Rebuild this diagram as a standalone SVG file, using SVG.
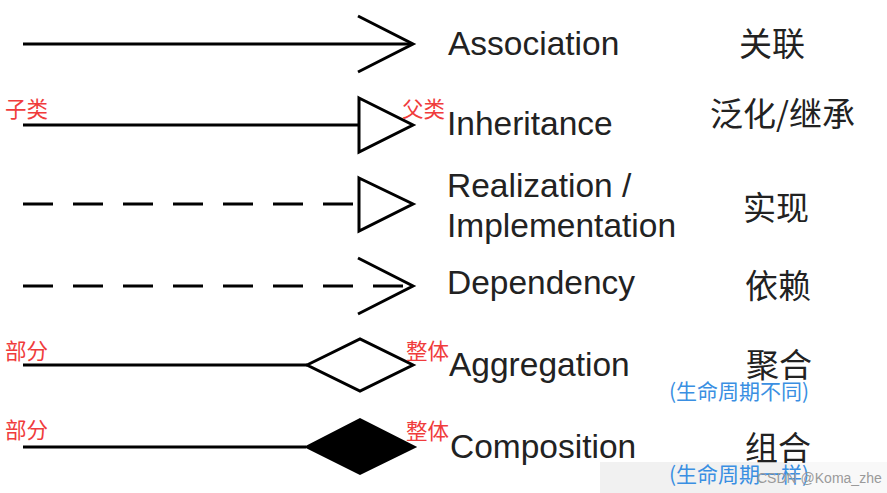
<svg xmlns="http://www.w3.org/2000/svg" width="887" height="493" viewBox="0 0 887 493">
<style>
.ln{stroke:#000;stroke-width:3;fill:none}
.dash{stroke-dasharray:30 20}
.open{fill:#fff;stroke:#000;stroke-width:3}
.solid{fill:#000;stroke:#000;stroke-width:2}
.en{font-family:"Liberation Sans",Arial,sans-serif;font-size:33.5px;fill:#222}
.cn{font-family:"Noto Sans CJK SC",sans-serif;font-size:33px;fill:#222}
.red{font-family:"Noto Sans CJK SC",sans-serif;font-size:21.5px;fill:#f03c3c}
.blue{font-family:"Noto Sans CJK SC",sans-serif;font-size:21px;fill:#3a8fe2}
.wm{font-family:"Liberation Sans",Arial,sans-serif;font-size:14px;fill:#9a9a9a}
</style>
<rect width="887" height="493" fill="#fff"/>
<rect x="600" y="462" width="190" height="31" fill="#f1f1f1"/>
<rect x="790" y="462" width="97" height="31" fill="#f8f8f8"/>
<g id="connectors">
  <g id="association">
    <line class="ln" x1="23" y1="44" x2="412" y2="44"/>
    <polyline class="ln" points="358,16 413,44 358,72"/>
  </g>
  <g id="inheritance">
    <line class="ln" x1="23" y1="125" x2="359" y2="125"/>
    <polygon class="open" points="359,98 413,125 359,152"/>
  </g>
  <g id="realization">
    <line class="ln dash" x1="23" y1="204" x2="359" y2="204"/>
    <polygon class="open" points="359,178 413,204 359,231"/>
  </g>
  <g id="dependency">
    <line class="ln dash" x1="23" y1="286" x2="410" y2="286"/>
    <polyline class="ln" points="358,258 413,286 358,314"/>
  </g>
  <g id="aggregation">
    <line class="ln" x1="23" y1="365" x2="307" y2="365"/>
    <polygon class="open" points="307,365 360,339 413,365 360,391"/>
  </g>
  <g id="composition">
    <line class="ln" x1="23" y1="447" x2="306" y2="447"/>
    <polygon class="solid" points="306,447 360,419 415,447 360,474"/>
  </g>
</g>
<g id="label-association">
  <text class="en" x="448" y="55">Association</text>
  <text class="cn" x="739" y="56">关联</text>
</g>
<g id="label-inheritance">
  <text class="red" x="5" y="117">子类</text>
  <text class="red" x="402" y="117">父类</text>
  <text class="en" x="447" y="135">Inheritance</text>
  <text class="cn" x="710" y="126">泛化/继承</text>
</g>
<g id="label-realization">
  <text class="en" x="447" y="197">Realization /</text>
  <text class="en" x="447" y="237">Implementation</text>
  <text class="cn" x="743" y="220">实现</text>
</g>
<g id="label-dependency">
  <text class="en" x="447" y="294">Dependency</text>
  <text class="cn" x="745" y="298">依赖</text>
</g>
<g id="label-aggregation">
  <text class="red" x="5" y="359">部分</text>
  <text class="red" x="406" y="359">整体</text>
  <text class="en" x="449" y="376">Aggregation</text>
  <text class="cn" x="746" y="377">聚合</text>
  <text class="blue" x="669" y="399">(生命周期不同)</text>
</g>
<g id="label-composition">
  <text class="red" x="5" y="438">部分</text>
  <text class="red" x="406" y="439">整体</text>
  <text class="en" x="450" y="458">Composition</text>
  <text class="cn" x="745" y="460">组合</text>
  <text class="blue" x="669" y="482">(生命周期一样)</text>
</g>
<text class="wm" x="757" y="483">CSDN @Koma_zhe</text>
</svg>
